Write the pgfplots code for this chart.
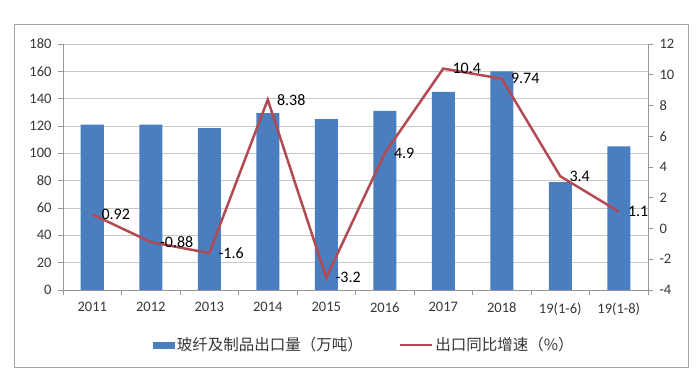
\documentclass[border=0pt]{standalone}
\usepackage{fontspec}
\setmainfont{Carlito}
\newfontfamily\cjk{Noto Sans CJK SC}
\usepackage{pgfplots}
\pgfplotsset{compat=1.18}
\definecolor{barblue}{RGB}{74,126,190}
\definecolor{linered}{RGB}{178,74,84}
\definecolor{gridgray}{RGB}{200,200,200}
\definecolor{axgray}{RGB}{150,150,150}
\definecolor{txt}{RGB}{55,55,55}
\pgfplotsset{
  common/.style={
    at={(63bp,98bp)}, anchor=south west,
    scale only axis, width=585bp, height=246bp,
    xmin=-0.5, xmax=9.5,
    tick align=outside,
    axis line style={axgray, line width=0.8bp, -},
    major tick length=5bp, minor tick length=5bp,
    ticklabel style={font=\fontsize{14.5bp}{16bp}\selectfont, text=txt},
    /pgf/number format/assume math mode=true,
  }
}
\begin{document}
\begin{tikzpicture}
\useasboundingbox (0,0) rectangle (700bp,388bp);
\fill[white] (0,0) rectangle (700bp,388bp);
\draw[color={rgb,255:red,165;green,165;blue,165}, line width=1bp] (14bp,20bp) rectangle (688bp,363bp);
\begin{axis}[common,
  ymin=0, ymax=180,
  ytick={0,20,...,180},
  xtick={0,...,9},
  xticklabels={2011,2012,2013,2014,2015,2016,2017,2018,19(1-6),19(1-8)},
  minor xtick={-0.5,0.5,...,9.5},
  axis y line*=left, axis x line*=bottom,
  ymajorgrids, grid style={gridgray, line width=0.8bp},
  major x tick style={draw=none},
  minor x tick style={axgray, line width=0.8bp},
  major y tick style={axgray, line width=0.8bp},
  xticklabel style={yshift=-4bp},
  yticklabel style={xshift=-3bp},
  legend style={at={(0.515,-0.224)}, anchor=center, draw=none, fill=none,
    legend columns=2, font=\cjk\fontsize{15.5bp}{17bp}\selectfont, text=txt,
    /tikz/every even column/.append style={column sep=34bp}},
  legend cell align=left,
]
\addplot[ybar, bar width=23bp, fill=barblue, draw=none,
  legend image code/.code={\fill[barblue] (0bp,-3.5bp) rectangle (22bp,3.5bp);}]
  coordinates {(0,121) (1,121) (2,118.5) (3,129.5) (4,125) (5,131) (6,145) (7,160) (8,79) (9,105)};
\addlegendentry{玻纤及制品出口量（万吨）}
\addlegendimage{linered, line width=2.5bp, legend image code/.code={\draw (0bp,0bp) -- (32bp,0bp);}}
\addlegendentry{出口同比增速（\%）}
\end{axis}
\begin{axis}[common,
  ymin=-4, ymax=12,
  ytick={-4,-2,...,12},
  xtick=\empty,
  axis y line*=right, axis x line=none,
  major y tick style={axgray, line width=0.8bp},
  yticklabel style={xshift=3bp},
]
\addplot[linered, line width=2.5bp, mark=none,
  nodes near coords, point meta=explicit symbolic,
  every node near coord/.append style={anchor=west, xshift=7bp, inner sep=1bp,
    font=\fontsize{16bp}{18bp}\selectfont, text=black}]
  table[meta=label] {
x y label
0 0.92 0.92
1 -0.88 -0.88
2 -1.6 -1.6
3 8.38 8.38
4 -3.2 -3.2
5 4.9 4.9
6 10.4 10.4
7 9.74 9.74
8 3.4 3.4
9 1.1 1.1
};
\end{axis}
\end{tikzpicture}
\end{document}
